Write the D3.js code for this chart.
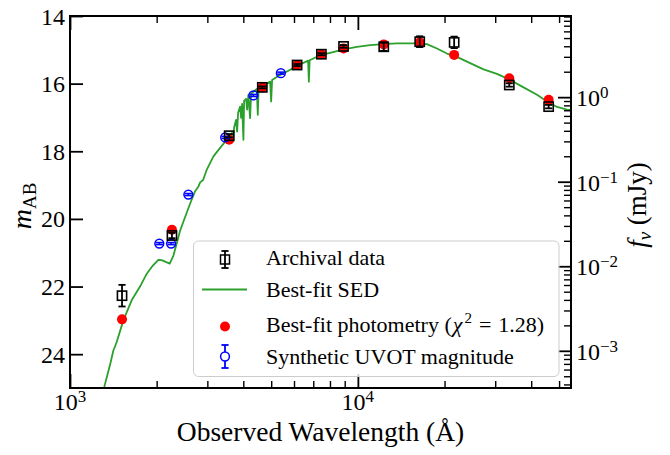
<!DOCTYPE html>
<html><head><meta charset="utf-8">
<script src="https://cdn.jsdelivr.net/npm/d3@7"></script>
</head><body style="margin:0;background:#fff">
<svg id="chart" width="670" height="455" font-family="Liberation Serif"></svg>
<script>
// ---------------- data ----------------
const archBands = ["FUV","NUV","u","g","r","i","z","J","H","Ks","W1","W2"];
const archWave  = [1516, 2260, 3572, 4656, 6150, 7470, 8917, 12300, 16400, 21600, 33570, 46000];
const archMag   = [22.27, 20.49, 17.54, 16.11, 15.45, 15.13, 14.90, 14.91, 14.76, 14.78, 16.04, 16.68];
const archErr   = [0.32, 0.08, 0.05, 0.03, 0.03, 0.03, 0.04, 0.12, 0.16, 0.17, 0.05, 0.05];
const fitMag    = [22.97, 20.32, 17.66, 16.11, 15.45, 15.13, 14.96, 14.84, 14.78, 15.15, 15.84, 16.48];
const uvotBands = ["UVW2","UVM2","UVW1","U","B","V"];
const uvotWave  = [2043, 2245, 2577, 3460, 4335, 5400];
const uvotMag   = [20.73, 20.73, 19.28, 17.59, 16.35, 15.69];
const uvotErr   = [0.03, 0.03, 0.03, 0.03, 0.03, 0.03];
const sedWave = [1250,1316,1377,1414,1453,1532,1639,1751,1848,1940,2027,2080,2150,2220,2286,2349,2412,2545,2649,2720,
  2790,2831,2900,2987,3149,3322,3505,3599,3657,3695,3715,3776,3806,3837,3899,3931,3962,4003,4026,4090,
  4124,4166,4223,4257,4336,4456,4491,4520,4697,4957,4997,5036,5370,5739,6138,6718,6756,6800,7396,8011,
  8913,9920,11036,12274,13664,15612,17374,18823,20390,22086,23927,27327,30420,33828,37630,41907,45391,49173,53275,59260];
const sedMag = [25.62,24.96,24.32,23.90,23.64,23.00,22.40,22.00,21.62,21.38,21.21,21.22,21.27,21.32,21.09,20.72,20.35,19.81,19.42,19.18,
  19.05,18.92,18.85,18.54,18.15,17.90,17.66,17.56,17.45,17.71,17.30,17.07,17.42,16.86,16.68,17.01,16.60,17.66,16.51,16.45,
  16.77,16.33,17.02,16.30,16.24,16.16,16.92,16.16,16.07,15.94,16.53,15.89,15.74,15.62,15.48,15.32,15.94,15.31,15.16,15.09,
  14.99,14.91,14.86,14.83,14.81,14.81,14.83,14.96,15.11,15.21,15.35,15.58,15.71,15.89,16.11,16.33,16.53,16.69,16.77,16.80];
const xMajorTicks = [1000, 10000];
const xMajorExp = ["3", "4"];
const xMinorTicks = [2000,3000,4000,5000,6000,7000,8000,9000,20000,30000,40000,50000];
const yTicks = [14, 16, 18, 20, 22, 24];
const fMajorTicks = [1, 0.1, 0.01, 0.001];
const fMajorExp = ["0", "\u22121", "\u22122", "\u22123"];
const legendLabels = ["Archival data", "Best-fit SED", "Best-fit photometry", "Synthetic UVOT magnitude"];
const chi2 = "1.28";
const magZP = 16.4; // m_AB = -2.5 log10(f/mJy) + 16.4

// ---------------- layout ----------------
const FONT = "Liberation Serif";
const L = 70, R = 571, T = 16, B = 388;
const svg = d3.select("#chart");
const x = d3.scaleLog().domain([1000, 55000]).range([L, R]);
const y = d3.scaleLinear().domain([14, 25]).range([T, B]);
const yf = d3.scaleLog().domain([Math.pow(10, (magZP - 14) / 2.5), Math.pow(10, (magZP - 25) / 2.5)]).range([T, B]);

const fMinorTicks = [];
[0.0001, 0.001, 0.01, 0.1, 1].forEach(d => { for (let k = 2; k <= 9; k++) { const v = k * d; if (v >= yf.domain()[1] && v <= yf.domain()[0]) fMinorTicks.push(v); } });

svg.append("defs").append("clipPath").attr("id", "clip")
  .append("rect").attr("x", L).attr("y", T).attr("width", R - L).attr("height", B - T);

// SED line
const line = d3.line().x(d => x(d[0])).y(d => y(d[1]));
svg.append("path").attr("clip-path", "url(#clip)")
  .datum(sedWave.map((w, i) => [w, sedMag[i]]))
  .attr("d", line).attr("fill", "none").attr("stroke", "#2ca02c").attr("stroke-width", 1.8).attr("stroke-linejoin", "round");

// best-fit photometry
svg.append("g").selectAll("circle").data(archWave).join("circle")
  .attr("cx", d => x(d)).attr("cy", (d, i) => y(fitMag[i])).attr("r", 5).attr("fill", "#ff0000");

function errorbars(g, waves, mags, errs, color, w) {
  const gg = g.append("g").attr("stroke", color).attr("stroke-width", w);
  waves.forEach((wv, i) => {
    const cx = x(wv), y0 = y(mags[i] - errs[i]), y1 = y(mags[i] + errs[i]);
    gg.append("line").attr("x1", cx).attr("x2", cx).attr("y1", y0).attr("y2", y1);
    gg.append("line").attr("x1", cx - 3.6).attr("x2", cx + 3.6).attr("y1", y0).attr("y2", y0);
    gg.append("line").attr("x1", cx - 3.6).attr("x2", cx + 3.6).attr("y1", y1).attr("y2", y1);
  });
}
const gU = svg.append("g");
errorbars(gU, uvotWave, uvotMag, uvotErr, "#0000ff", 1.6);
gU.selectAll("circle").data(uvotWave).join("circle")
  .attr("cx", d => x(d)).attr("cy", (d, i) => y(uvotMag[i])).attr("r", 4.4)
  .attr("fill", "none").attr("stroke", "#0000ff").attr("stroke-width", 1.5);

const gA = svg.append("g");
errorbars(gA, archWave, archMag, archErr, "#000", 1.8);
gA.selectAll("rect").data(archWave).join("rect")
  .attr("x", d => x(d) - 4.6).attr("y", (d, i) => y(archMag[i]) - 4.6).attr("width", 9.2).attr("height", 9.2)
  .attr("fill", "none").attr("stroke", "#000").attr("stroke-width", 1.6);

// ---------------- axes (ticks only) ----------------
function styleAxis(g, w) {
  g.attr("font-family", FONT);
  g.select(".domain").remove();
  g.selectAll("line").attr("stroke", "#000").attr("stroke-width", w);
  g.selectAll("text").remove();
}
const axG = svg.append("g").attr("class", "axes");
axG.append("g").attr("transform", `translate(0,${B})`)
  .call(d3.axisBottom(x).tickValues(xMajorTicks).tickSizeInner(-14).tickSizeOuter(0)).call(g => styleAxis(g, 1.8));
axG.append("g").attr("transform", `translate(0,${B})`)
  .call(d3.axisBottom(x).tickValues(xMinorTicks).tickSizeInner(-7).tickSizeOuter(0)).call(g => styleAxis(g, 1.4));
axG.append("g").attr("transform", `translate(0,${T})`)
  .call(d3.axisTop(x).tickValues(xMajorTicks).tickSizeInner(-14).tickSizeOuter(0)).call(g => styleAxis(g, 1.8));
axG.append("g").attr("transform", `translate(0,${T})`)
  .call(d3.axisTop(x).tickValues(xMinorTicks).tickSizeInner(-7).tickSizeOuter(0)).call(g => styleAxis(g, 1.4));
axG.append("g").attr("transform", `translate(${L},0)`)
  .call(d3.axisLeft(y).tickValues(yTicks).tickSizeInner(-13).tickSizeOuter(0)).call(g => styleAxis(g, 1.8));
axG.append("g").attr("transform", `translate(${R},0)`)
  .call(d3.axisRight(yf).tickValues(fMajorTicks).tickSizeInner(-13).tickSizeOuter(0)).call(g => styleAxis(g, 1.8));
axG.append("g").attr("transform", `translate(${R},0)`)
  .call(d3.axisRight(yf).tickValues(fMinorTicks).tickSizeInner(-7).tickSizeOuter(0)).call(g => styleAxis(g, 1.4));

svg.append("rect").attr("x", L).attr("y", T).attr("width", R - L).attr("height", B - T)
  .attr("fill", "none").attr("stroke", "#000").attr("stroke-width", 2);

// ---------------- texts ----------------
const tg = svg.append("g").attr("font-family", FONT).attr("fill", "#000");
const tf = 24;
function txt(sel) { return sel.append("text").attr("font-family", FONT); }
yTicks.forEach(v => {
  txt(tg).attr("x", L - 5).attr("y", y(v) + 8.5).attr("text-anchor", "end")
    .attr("font-size", tf).text(String(v));
});
function powLabel(xx, yy, exp, anchor) {
  const t = txt(tg).attr("x", xx).attr("y", yy).attr("text-anchor", anchor).attr("font-size", tf);
  t.append("tspan").text("10");
  t.append("tspan").attr("dy", -8).attr("font-size", 17).text(exp);
}
xMajorTicks.forEach((v, i) => powLabel(x(v), 410, xMajorExp[i], "middle"));
fMajorTicks.forEach((v, i) => powLabel(R + 5, yf(v) + 9, fMajorExp[i], "start"));

txt(tg).attr("x", (L + R) / 2).attr("y", 441).attr("text-anchor", "middle")
  .attr("font-size", 27.5).text("Observed Wavelength (\u00c5)");
const yl = txt(tg).attr("transform", `translate(31,${(T + B) / 2 + 4}) rotate(-90)`)
  .attr("text-anchor", "middle").attr("font-size", 28);
yl.append("tspan").attr("font-style", "italic").text("m");
yl.append("tspan").attr("font-size", 19).attr("dy", 5).text("AB");
const rl = txt(tg).attr("transform", `translate(646,${(T + B) / 2 + 3}) rotate(-90)`)
  .attr("text-anchor", "middle").attr("font-size", 27);
rl.append("tspan").attr("font-style", "italic").text("f");
rl.append("tspan").attr("font-style", "italic").attr("font-size", 19).attr("dy", 5).text("\u03bd");
rl.append("tspan").attr("dy", -5).text(" (mJy)");

// ---------------- legend ----------------
const lg = svg.append("g").attr("font-family", FONT);
lg.append("rect").attr("x", 193.5).attr("y", 241).attr("width", 365.5).attr("height", 135.5).attr("rx", 5)
  .attr("fill", "#fff").attr("fill-opacity", 0.8).attr("stroke", "#cccccc").attr("stroke-width", 1);
const mx = 225;
lg.append("line").attr("x1", mx).attr("x2", mx).attr("y1", 251).attr("y2", 268).attr("stroke", "#000").attr("stroke-width", 1.8);
[251, 268].forEach(v => lg.append("line").attr("x1", mx - 3.6).attr("x2", mx + 3.6).attr("y1", v).attr("y2", v).attr("stroke", "#000").attr("stroke-width", 1.8));
lg.append("rect").attr("x", mx - 4.5).attr("y", 255).attr("width", 9).attr("height", 9).attr("fill", "none").attr("stroke", "#000").attr("stroke-width", 1.5);
lg.append("line").attr("x1", 202).attr("x2", 247).attr("y1", 289.5).attr("y2", 289.5).attr("stroke", "#2ca02c").attr("stroke-width", 1.8);
lg.append("circle").attr("cx", mx).attr("cy", 326.5).attr("r", 5).attr("fill", "#ff0000");
lg.append("line").attr("x1", mx).attr("x2", mx).attr("y1", 345).attr("y2", 368).attr("stroke", "#0000ff").attr("stroke-width", 1.8);
[345, 368].forEach(v => lg.append("line").attr("x1", mx - 3.6).attr("x2", mx + 3.6).attr("y1", v).attr("y2", v).attr("stroke", "#0000ff").attr("stroke-width", 1.8));
lg.append("circle").attr("cx", mx).attr("cy", 356.5).attr("r", 4.4).attr("fill", "#fff").attr("stroke", "#0000ff").attr("stroke-width", 1.5);

const lf = 22, tx = 266;
txt(lg).attr("x", tx).attr("y", 265).attr("font-size", lf).text(legendLabels[0]);
txt(lg).attr("x", tx).attr("y", 297).attr("font-size", lf).text(legendLabels[1]);
const t3 = txt(lg).attr("x", tx).attr("y", 332).attr("font-size", lf);
t3.append("tspan").text(legendLabels[2] + " (");
t3.append("tspan").attr("font-style", "italic").attr("dx", 1).text("\u03c7");
t3.append("tspan").attr("font-size", 15).attr("dx", 2).attr("dy", -9).text("2");
t3.append("tspan").attr("dx", 7).attr("dy", 9).text("=");
t3.append("tspan").attr("dx", 7).text(chi2 + ")");
txt(lg).attr("x", tx).attr("y", 363.5).attr("font-size", lf).text(legendLabels[3]);
</script>
</body></html>
